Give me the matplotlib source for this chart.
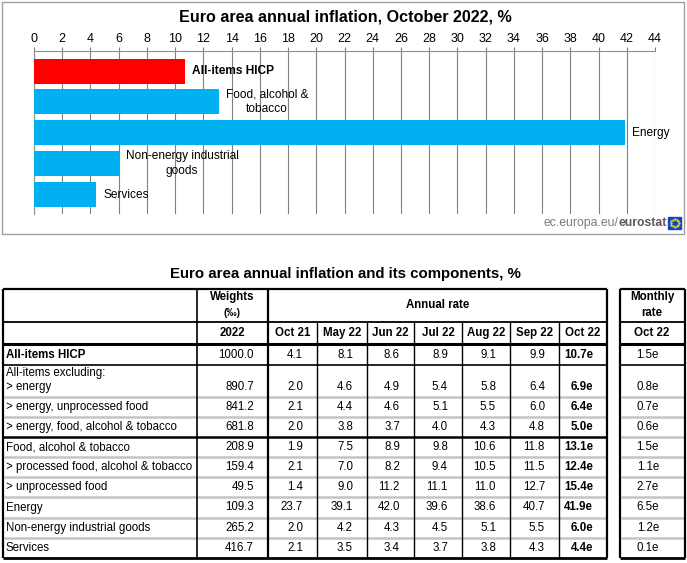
import numpy as np
import matplotlib.pyplot as plt
from matplotlib.patches import Rectangle

plt.rcParams['font.family'] = ['Liberation Sans', 'DejaVu Sans']

# bar chart data
bar_labels = ["All-items HICP", "Food, alcohol &\ntobacco", "Energy",
              "Non-energy industrial\ngoods", "Services"]
bar_values = [10.7, 13.1, 41.9, 6.0, 4.4]
bar_colors = ["#FF0000", "#00B0F0", "#00B0F0", "#00B0F0", "#00B0F0"]

# table data
row_labels = ["All-items HICP", "All-items excluding:\n> energy",
              "> energy, unprocessed food", "> energy, food, alcohol & tobacco",
              "Food, alcohol & tobacco", "> processed food, alcohol & tobacco",
              "> unprocessed food", "Energy", "Non-energy industrial goods",
              "Services"]
weights = [1000.0, 890.7, 841.2, 681.8, 208.9, 159.4, 49.5, 109.3, 265.2, 416.7]
periods = ["Oct 21", "May 22", "Jun 22", "Jul 22", "Aug 22", "Sep 22", "Oct 22"]
annual = [
    [4.1, 8.1, 8.6, 8.9, 9.1, 9.9, 10.7],
    [2.0, 4.6, 4.9, 5.4, 5.8, 6.4, 6.9],
    [2.1, 4.4, 4.6, 5.1, 5.5, 6.0, 6.4],
    [2.0, 3.8, 3.7, 4.0, 4.3, 4.8, 5.0],
    [1.9, 7.5, 8.9, 9.8, 10.6, 11.8, 13.1],
    [2.1, 7.0, 8.2, 9.4, 10.5, 11.5, 12.4],
    [1.4, 9.0, 11.2, 11.1, 11.0, 12.7, 15.4],
    [23.7, 39.1, 42.0, 39.6, 38.6, 40.7, 41.9],
    [2.0, 4.2, 4.3, 4.5, 5.1, 5.5, 6.0],
    [2.1, 3.5, 3.4, 3.7, 3.8, 4.3, 4.4],
]
monthly = [1.5, 0.8, 0.7, 0.6, 1.5, 1.1, 2.7, 6.5, 1.2, 0.1]

W, H = 687, 563
fig = plt.figure(figsize=(W / 100, H / 100), dpi=100)

# background axes in pixel units (y down)
bg = fig.add_axes([0, 0, 1, 1])
bg.set_xlim(0, W)
bg.set_ylim(H, 0)
bg.axis('off')

# ---- top chart ----
bg.add_patch(Rectangle((2, 2), 682, 232, fill=False, ec='#a0a0a0', lw=1))
bg.text(345, 17, "Euro area annual inflation, October 2022, %", ha='center',
        va='center', fontsize=11.6, fontweight='bold')

x0, x1 = 34, 655
ytop, ybot = 51, 214
ax = fig.add_axes([x0 / W, 1 - ybot / H, (x1 - x0) / W, (ybot - ytop) / H])
ypos = np.arange(len(bar_values))
ax.barh(ypos, bar_values, height=0.81, color=bar_colors, zorder=3)
ax.set_xlim(0, 44)
ax.set_ylim(4.63, -0.65)
ax.set_xticks(np.arange(0, 45, 2))
ax.xaxis.tick_top()
ax.tick_params(axis='x', length=3, color='#808080', labelsize=9, pad=1.5)
ax.tick_params(axis='y', left=False, labelleft=False)
ax.set_yticks([])
ax.grid(axis='x', color='#808080', lw=0.8, zorder=0)
for s in ['right', 'bottom']:
    ax.spines[s].set_visible(False)
ax.spines['top'].set_color('#909090')
ax.spines['left'].set_color('#909090')
ax.spines['left'].set_linewidth(0.8)
ax.spines['top'].set_linewidth(0.8)
ax.set_facecolor('none')

for i, (lab, v) in enumerate(zip(bar_labels, bar_values)):
    ax.annotate(lab, xy=(v, i), xytext=(5, 0), textcoords='offset points',
                ha='left', va='center', multialignment='center', fontsize=8.6,
                fontweight='bold' if i == 0 else 'normal', linespacing=1.3)

t_es = bg.text(667, 223, "eurostat", ha='right', va='center', fontsize=8.8,
               color='#5a5a5a', fontweight='bold')
bg.annotate("ec.europa.eu/", xy=(0, 0.5), xycoords=t_es, ha='right',
            va='center', fontsize=8.8, color='#7a7a7a')
bg.add_patch(Rectangle((668, 217), 13, 12, color='#0E47CB'))
ang = np.linspace(0, 2 * np.pi, 12, endpoint=False)
bg.scatter(674.5 + 4 * np.cos(ang), 223 + 4 * np.sin(ang), s=0.4,
           color='#FFDD00', zorder=5)

# ---- table ----
bg.text(345, 274, "Euro area annual inflation and its components, %",
        ha='center', va='center', fontsize=10.8, fontweight='bold')

col_edges = [3, 197, 268, 317, 367, 414, 462, 510, 559, 607]
mon_edges = [620, 685]
row_edges = [344, 365, 397, 417, 437, 457, 477, 497, 518, 538, 558]
fs = 8.3
pad = 14
grey = '#C4C4C4'

def hline(y, xa, xb, c='black', lw=1.0):
    bg.plot([xa, xb], [y, y], color=c, lw=lw, solid_capstyle='butt', zorder=4)

def vline(x, ya, yb, c='black', lw=1.0):
    bg.plot([x, x], [ya, yb], color=c, lw=lw, solid_capstyle='butt', zorder=4)

# header text
bg.text(232, 297, "Weights", ha='center', va='center', fontsize=fs, fontweight='bold')
bg.text(232, 313, "(‰)", ha='center', va='center', fontsize=fs - 1, fontweight='bold')
bg.text((col_edges[2] + col_edges[-1]) / 2, 305, "Annual rate", ha='center',
        va='center', fontsize=fs, fontweight='bold')
bg.text(652, 297, "Monthly", ha='center', va='center', fontsize=fs, fontweight='bold')
bg.text(652, 313, "rate", ha='center', va='center', fontsize=fs, fontweight='bold')
bg.text(232, 333, "2022", ha='center', va='center', fontsize=fs, fontweight='bold')
for j, p in enumerate(periods):
    bg.text((col_edges[j + 2] + col_edges[j + 3]) / 2, 333, p, ha='center',
            va='center', fontsize=fs, fontweight='bold')
bg.text(652, 333, periods[-1], ha='center', va='center', fontsize=fs, fontweight='bold')

# body text
for i, lab in enumerate(row_labels):
    ya, yb = row_edges[i], row_edges[i + 1]
    if '\n' in lab:
        first, second = lab.split('\n')
        bg.text(6, ya + 8, first, ha='left', va='center', fontsize=fs)
        yc = yb - 10
        bg.text(6, yc, second, ha='left', va='center', fontsize=fs)
    else:
        yc = (ya + yb) / 2
        bg.text(6, yc, lab, ha='left', va='center', fontsize=fs,
                fontweight='bold' if i == 0 else 'normal')
    bg.text(col_edges[2] - pad, yc, f"{weights[i]:.1f}", ha='right',
            va='center', fontsize=fs)
    for j, v in enumerate(annual[i]):
        last = j == len(periods) - 1
        txt = f"{v:.1f}e" if last else f"{v:.1f}"
        bg.text(col_edges[j + 3] - pad, yc, txt, ha='right', va='center',
                fontsize=fs, fontweight='bold' if last else 'normal')
    bg.text(mon_edges[1] - 26, yc, f"{monthly[i]:.1f}e", ha='right',
            va='center', fontsize=fs)

# horizontal rules
top = 289
for xa, xb in [(col_edges[0], col_edges[-1]), (mon_edges[0], mon_edges[1])]:
    hline(top, xa, xb, lw=1.6)
    hline(322, xa, xb, lw=1.3)
    hline(344, xa, xb, lw=2.2)
    hline(row_edges[-1], xa, xb, lw=2.0)
hline(row_edges[1], col_edges[0], col_edges[-1], lw=1.2)
hline(row_edges[1], mon_edges[0], mon_edges[1], lw=1.2)
for k in range(2, len(row_edges) - 1):
    if k == 4:
        hline(row_edges[k], col_edges[0], col_edges[-1], lw=1.8)
        hline(row_edges[k], mon_edges[0], mon_edges[1], c=grey, lw=1.8)
    else:
        hline(row_edges[k], col_edges[0] + 1, col_edges[-1] - 1, c=grey, lw=1.8)
        hline(row_edges[k], mon_edges[0] + 1, mon_edges[1] - 1, c=grey, lw=1.8)

# vertical rules
bot = row_edges[-1]
vline(col_edges[0], top, bot, lw=1.6)
vline(col_edges[1], top, bot, lw=1.2)
vline(col_edges[2], top, bot, lw=1.6)
for x in col_edges[3:-1]:
    vline(x, 322, bot, lw=1.0)
vline(col_edges[-1], top, bot, lw=1.6)
vline(mon_edges[0], top, bot, lw=1.6)
vline(mon_edges[1], top, bot, lw=1.6)

fig.savefig("out.png", dpi=100)
